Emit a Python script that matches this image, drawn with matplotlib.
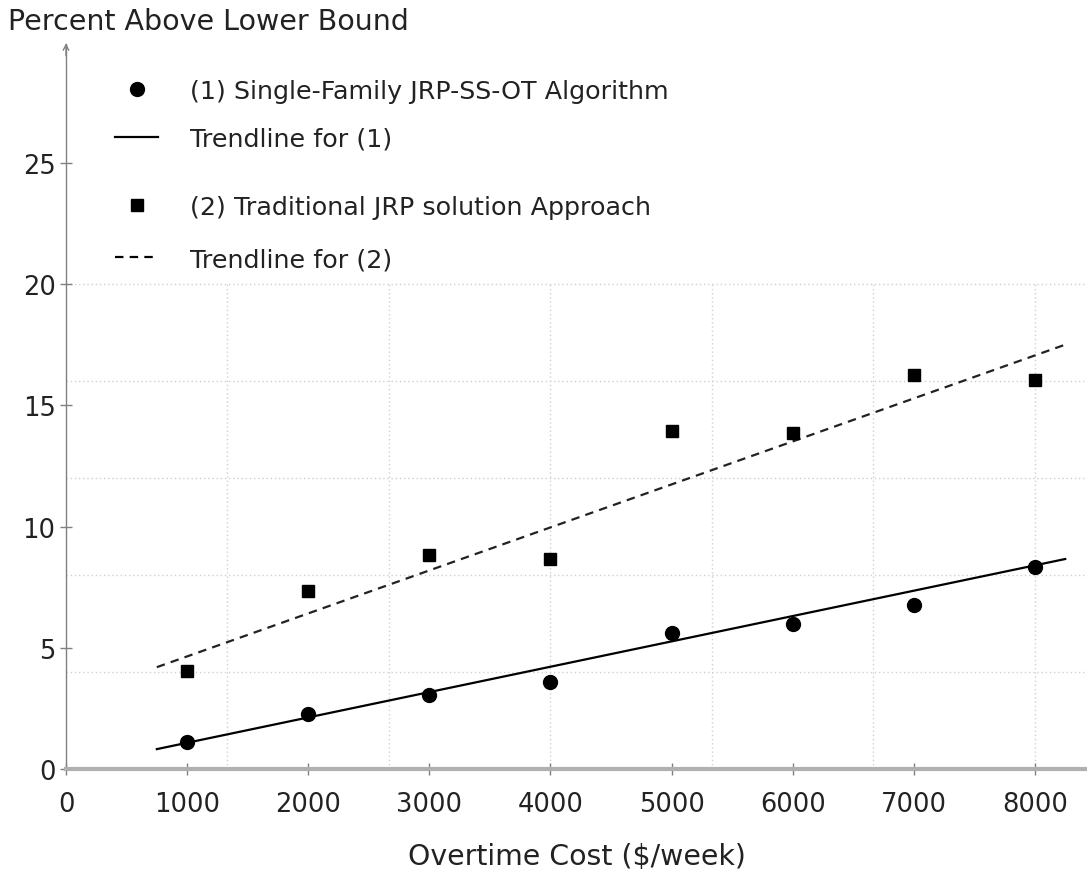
import matplotlib

matplotlib.use("Agg")
import matplotlib.pyplot as plt
from matplotlib.legend import Legend
from matplotlib.lines import Line2D

plt.rcParams["font.family"] = ["DejaVu Sans"]

# Overtime cost levels ($/week)
overtime_cost = [1000, 2000, 3000, 4000, 5000, 6000, 7000, 8000]

# (1) Single-Family JRP-SS-OT Algorithm, percent above lower bound
single_family = [1.11, 2.27, 3.05, 3.59, 5.61, 5.98, 6.76, 8.33]
# (2) Traditional JRP solution approach
traditional = [4.04, 7.34, 8.82, 8.66, 13.94, 13.86, 16.25, 16.04]

# trendline end points, as drawn
trend_x = [750, 8250]
trend_single = [0.82, 8.66]
trend_traditional = [4.2, 17.5]

x_ticks = [0, 1000, 2000, 3000, 4000, 5000, 6000, 7000, 8000]
y_ticks = [0, 5, 10, 15, 20, 25]
grid_x = [1333.3, 2666.7, 4000, 5333.3, 6666.7, 8000]
grid_y = [4, 8, 12, 16, 20]

DASH = (0, (3.8, 2.8))

W, H = 1087, 878
fig = plt.figure(figsize=(W / 100, H / 100), dpi=100)
ax = fig.add_axes([66 / W, (H - 770) / H, (W - 66) / W, 725 / H])
ax.set_xlim(0, 8430)
ax.set_ylim(0, 29.9)

# grid only covers the 0-20 region
ax.vlines(grid_x, 0, 20, colors="#d0d0d0", linestyles=(0, (1, 2)), lw=1, zorder=0)
ax.hlines(grid_y, 0, 8430, colors="#d0d0d0", linestyles=(0, (1, 2)), lw=1, zorder=0)

ax.plot(trend_x, trend_single, color="black", lw=1.6, zorder=2)
ax.plot(trend_x, trend_traditional, color="#222222", lw=1.6,
        linestyle=DASH, zorder=2)
ax.plot(overtime_cost, single_family, "o", color="black", ms=10, zorder=3)
ax.plot(overtime_cost, traditional, "s", color="black", ms=9, zorder=3)

for side in ["top", "right"]:
    ax.spines[side].set_visible(False)
ax.spines["bottom"].set_color("#b0b0b0")
ax.spines["bottom"].set_linewidth(3)
ax.spines["left"].set_color("#808080")
ax.spines["left"].set_linewidth(1)
ax.annotate("", xy=(0, 1.005), xytext=(0, 0.98), xycoords="axes fraction",
            arrowprops=dict(arrowstyle="->", color="#808080", lw=1))

ax.set_xticks(x_ticks)
ax.set_yticks(y_ticks)
ax.tick_params(direction="inout", length=8, width=1, color="#808080",
               labelsize=18.5, labelcolor="#222222")
ax.tick_params(axis="x", pad=12)

ax.set_xlabel(r"Overtime Cost (\$/week)", fontsize=20.4, color="#222222", labelpad=18)
ax.set_ylabel("Percent Above Lower Bound", fontsize=20.5, color="#222222",
              rotation=0, ha="left", va="center")
ax.yaxis.set_label_coords(-0.057, 1.032)

# legend, one entry per block so the uneven spacing can be kept
entries = [
    (Line2D([], [], marker="o", color="black", ls="none", ms=10),
     "(1) Single-Family JRP-SS-OT Algorithm", 0.935),
    (Line2D([], [], color="black", lw=1.6),
     "Trendline for (1)", 0.869),
    (Line2D([], [], marker="s", color="black", ls="none", ms=8.5),
     "(2) Traditional JRP solution Approach", 0.775),
    (Line2D([], [], color="black", lw=1.6, ls=DASH),
     "Trendline for (2)", 0.703),
]
for handle, label, ypos in entries:
    leg = Legend(ax, [handle], [label], loc="center left",
                 bbox_to_anchor=(0.048, ypos), frameon=False,
                 fontsize=18.3, handlelength=1.7, handletextpad=1.25,
                 borderpad=0, borderaxespad=0, labelcolor="#222222")
    ax.add_artist(leg)

fig.savefig("out.png", dpi=100)
